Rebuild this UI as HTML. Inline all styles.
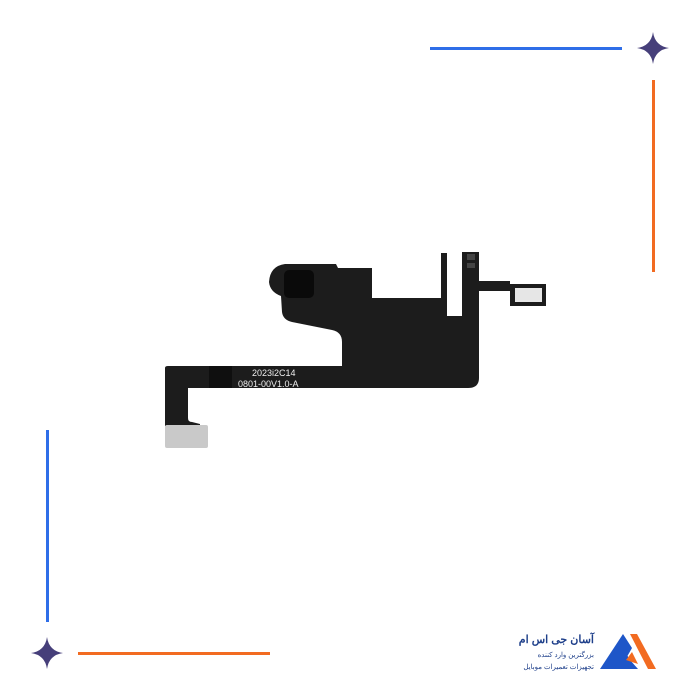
<!DOCTYPE html>
<html><head><meta charset="utf-8"><style>
html,body{margin:0;padding:0;background:#fff;width:700px;height:700px;overflow:hidden}
</style></head><body>
<svg width="700" height="700" viewBox="0 0 700 700" xmlns="http://www.w3.org/2000/svg">
<rect width="700" height="700" fill="#fff"/>
<!-- decorations -->
<rect x="430" y="47" width="192" height="3" fill="#2f6ee8"/>
<rect x="652" y="80" width="3" height="192" fill="#f26b21"/>
<rect x="46" y="430" width="3" height="192" fill="#2f6ee8"/>
<rect x="78" y="652" width="192" height="3" fill="#f26b21"/>
<path d="M653 32 Q655 46 669 48 Q655 50 653 64 Q651 50 637 48 Q651 46 653 32Z" fill="#463f7a"/>
<path d="M47 637 Q49 651 63 653 Q49 655 47 669 Q45 655 31 653 Q45 651 47 637Z" fill="#463f7a"/>
<!-- flex cable -->
<path d="M165 368 Q165 366 168 366 L342 366 L342 342 Q342 332 332 330 L292 322 Q283 320 282 312 L281 296 Q270 292 269 282 Q270 266 285 264 L336 264 L338 268 L372 268 L372 298 L441 298 L441 253 L447 253 L447 316 L462 316 L462 252 L479 252 L479 281 L510 281 L510 284 L546 284 L546 306 L510 306 L510 291 L479 291 L479 378 Q479 388 468 388 L188 388 L188 418 Q188 422 192 422 L200 424 L200 426 L188 426 L165 426 Z" fill="#1c1c1c"/>
<rect x="209" y="366" width="23" height="22" fill="#0f0f0f"/>
<rect x="284" y="270" width="30" height="28" rx="5" fill="#0a0a0a"/>
<rect x="165" y="425" width="43" height="23" rx="2" fill="#c9c9c9"/>
<rect x="515" y="288" width="27" height="14" fill="#e6e6e6"/>
<rect x="467" y="254" width="8" height="6" fill="#444"/>
<rect x="467" y="263" width="8" height="5" fill="#444"/>
<text x="252" y="376" font-family="Liberation Sans, sans-serif" font-size="9" fill="#eee">2023i2C14</text>
<text x="238" y="387" font-family="Liberation Sans, sans-serif" font-size="9" fill="#eee">0801-00V1.0-A</text>
<!-- logo -->
<path d="M600 669 L623 634 L632 648 L620 669 Z" fill="#1e56c8"/>
<path d="M612 669 L624 650 L630 660 L638 669 Z" fill="#1e56c8"/>
<path d="M630 634 L637 634 L656 669 L648 669 Z" fill="#f26b21"/>
<path d="M626 660 L632 652 L638 664 Z" fill="#f26b21"/>
<text x="594" y="643" text-anchor="end" font-family="Liberation Sans, Noto Sans CJK SC, sans-serif" font-size="11" font-weight="bold" fill="#1e3f8a">آسان جی اس ام</text>
<text x="594" y="657" text-anchor="end" font-family="Liberation Sans, Noto Sans CJK SC, sans-serif" font-size="7" fill="#1e3f8a">بزرگترین وارد کننده</text>
<text x="594" y="669" text-anchor="end" font-family="Liberation Sans, Noto Sans CJK SC, sans-serif" font-size="7" fill="#1e3f8a">تجهیزات تعمیرات موبایل</text>
</svg>
</body></html>
